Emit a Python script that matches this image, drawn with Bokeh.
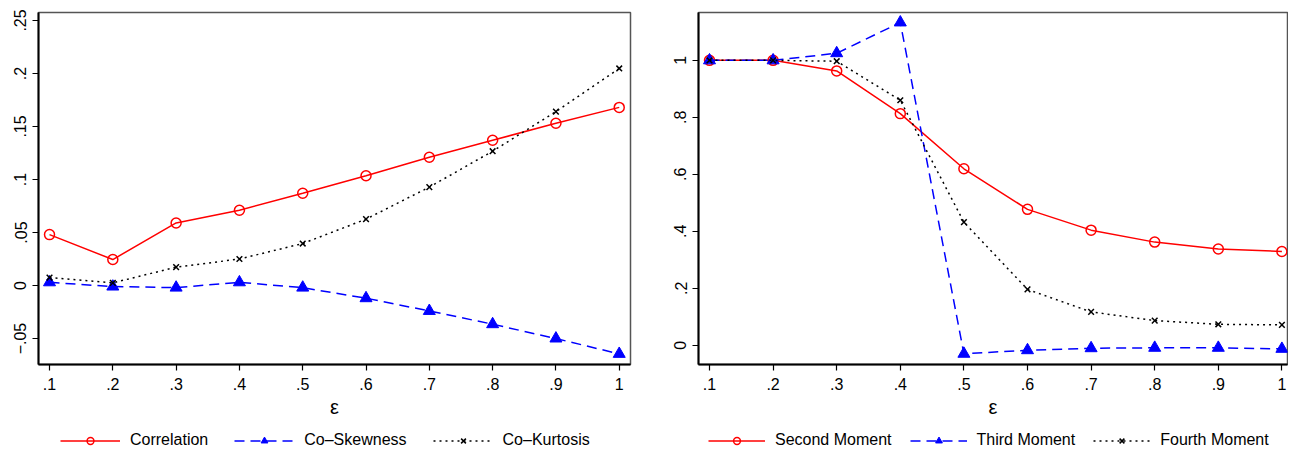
from bokeh.plotting import figure
from bokeh.layouts import row, column
from bokeh.models import Range1d, FixedTicker, Legend, LegendItem
from bokeh.embed import file_html
from bokeh.resources import INLINE

# ---------------- data ----------------
eps = [0.1, 0.2, 0.3, 0.4, 0.5, 0.6, 0.7, 0.8, 0.9, 1.0]

correlation = [0.048, 0.0245, 0.059, 0.071, 0.087, 0.1035, 0.121, 0.137, 0.153, 0.168]
co_skewness = [0.003, -0.001, -0.002, 0.003, -0.002, -0.012, -0.024, -0.0365, -0.050, -0.0645]
co_kurtosis = [0.0075, 0.0025, 0.0173, 0.025, 0.0396, 0.0626, 0.0928, 0.1267, 0.164, 0.2047]

second_moment = [1.0, 1.0, 0.963, 0.813, 0.6195, 0.477, 0.404, 0.362, 0.338, 0.329]
third_moment = [1.0, 1.0, 1.025, 1.133, -0.030, -0.0175, -0.0105, -0.009, -0.009, -0.0127]
fourth_moment = [1.0, 1.0, 0.997, 0.860, 0.432, 0.196, 0.117, 0.0865, 0.0735, 0.0714]

x_ticks = eps
x_tick_labels = [".1", ".2", ".3", ".4", ".5", ".6", ".7", ".8", ".9", "1"]
left_y_ticks = [-0.05, 0.0, 0.05, 0.1, 0.15, 0.2, 0.25]
left_y_tick_labels = ["\u2212.05", "0", ".05", ".1", ".15", ".2", ".25"]
right_y_ticks = [0.0, 0.2, 0.4, 0.6, 0.8, 1.0]
right_y_tick_labels = ["0", ".2", ".4", ".6", ".8", "1"]

left_names = ["Correlation", "Co\u2013Skewness", "Co\u2013Kurtosis"]
right_names = ["Second Moment", "Third Moment", "Fourth Moment"]

FONT = "Liberation Sans"
RED = "#FF0000"
BLUE = "#0000FF"
BLACK = "#000000"


def add_series(p, series):
    s1, s2, s3 = series
    l1 = p.line(eps, s1, line_color=RED, line_width=1.5)
    m1 = p.scatter(eps, s1, marker="circle", size=10, fill_color=None,
                   line_color=RED, line_width=1.5)
    l2 = p.line(eps, s2, line_color=BLUE, line_width=1.5, line_dash="10 6")
    m2 = p.scatter(eps, s2, marker="triangle", size=12, fill_color=BLUE,
                   line_color=BLUE, line_width=1)
    l3 = p.line(eps, s3, line_color=BLACK, line_width=1.5, line_dash="2 4")
    m3 = p.scatter(eps, s3, marker="x", size=8, line_color=BLACK, line_width=1.5)
    return [(l1, m1), (l2, m2), (l3, m3)]


def make_fig(width, xr, yr, yticks, ylabels, bl, br, series):
    p = figure(width=width, height=427, x_range=Range1d(*xr), y_range=Range1d(*yr),
               output_backend="svg", toolbar_location=None,
               min_border_left=bl, min_border_right=br, min_border_top=12,
               min_border_bottom=63)
    p.background_fill_color = "white"
    p.border_fill_color = "white"
    p.xgrid.visible = False
    p.ygrid.visible = False
    p.outline_line_color = "#555555"
    p.outline_line_width = 1.5

    for ax in (p.xaxis[0], p.yaxis[0]):
        ax.axis_line_color = BLACK
        ax.axis_line_width = 2
        ax.major_tick_line_color = BLACK
        ax.major_tick_line_width = 1.2
        ax.major_tick_out = 6
        ax.major_tick_in = 0
        ax.minor_tick_line_color = None
        ax.major_label_text_font = FONT
        ax.major_label_text_font_size = "16px"
        ax.major_label_text_color = BLACK

    p.xaxis.ticker = FixedTicker(ticks=x_ticks)
    p.xaxis.major_label_overrides = {t: l for t, l in zip(x_ticks, x_tick_labels)}
    p.xaxis.major_label_standoff = 7
    p.xaxis.axis_label = "\u03b5"
    p.xaxis.axis_label_text_font = FONT
    p.xaxis.axis_label_text_font_size = "20px"
    p.xaxis.axis_label_text_font_style = "normal"
    p.xaxis.axis_label_text_color = BLACK
    p.xaxis.axis_label_standoff = 3

    p.yaxis.ticker = FixedTicker(ticks=yticks)
    p.yaxis.major_label_overrides = {t: l for t, l in zip(yticks, ylabels)}
    p.yaxis.major_label_orientation = "vertical"
    p.yaxis.major_label_standoff = 6

    add_series(p, series)
    return p


def make_legend_fig(width, series, names, leg_x, glyph_w, spacing):
    # a thin strip under each panel that holds only the legend; the series are
    # drawn far outside its y range so that only the legend samples show
    p = figure(width=width, height=23, x_range=Range1d(0, 1), y_range=Range1d(10, 11),
               x_axis_type=None, y_axis_type=None,
               output_backend="svg", toolbar_location=None,
               min_border_left=0, min_border_right=0, min_border_top=0,
               min_border_bottom=0)
    p.background_fill_color = "white"
    p.border_fill_color = "white"
    p.outline_line_color = None
    p.xgrid.visible = False
    p.ygrid.visible = False
    pairs = add_series(p, series)
    legend = Legend(items=[LegendItem(label=n, renderers=list(r)) for n, r in zip(names, pairs)],
                    orientation="horizontal", location=(leg_x, 1),
                    glyph_width=glyph_w, glyph_height=17, label_standoff=10,
                    spacing=spacing, padding=2, margin=0,
                    border_line_color=None, background_fill_alpha=0,
                    label_text_font=FONT, label_text_font_size="16px",
                    label_text_color=BLACK)
    p.add_layout(legend)
    return p


left = make_fig(645, (0.0826, 1.0178), (-0.0745, 0.2575), left_y_ticks, left_y_tick_labels,
                38, 15, (correlation, co_skewness, co_kurtosis))
right = make_fig(643, (0.0827, 1.0088), (-0.0676, 1.168), right_y_ticks, right_y_tick_labels,
                 53, 1, (second_moment, third_moment, fourth_moment))

left_leg = make_legend_fig(645, (correlation, co_skewness, co_kurtosis), left_names, 60, 60, 26)
right_leg = make_legend_fig(643, (second_moment, third_moment, fourth_moment), right_names,
                            63, 57, 18)

layout = column(row(left, right), row(left_leg, right_leg))
open("out.html", "w").write(file_html(layout, INLINE))
